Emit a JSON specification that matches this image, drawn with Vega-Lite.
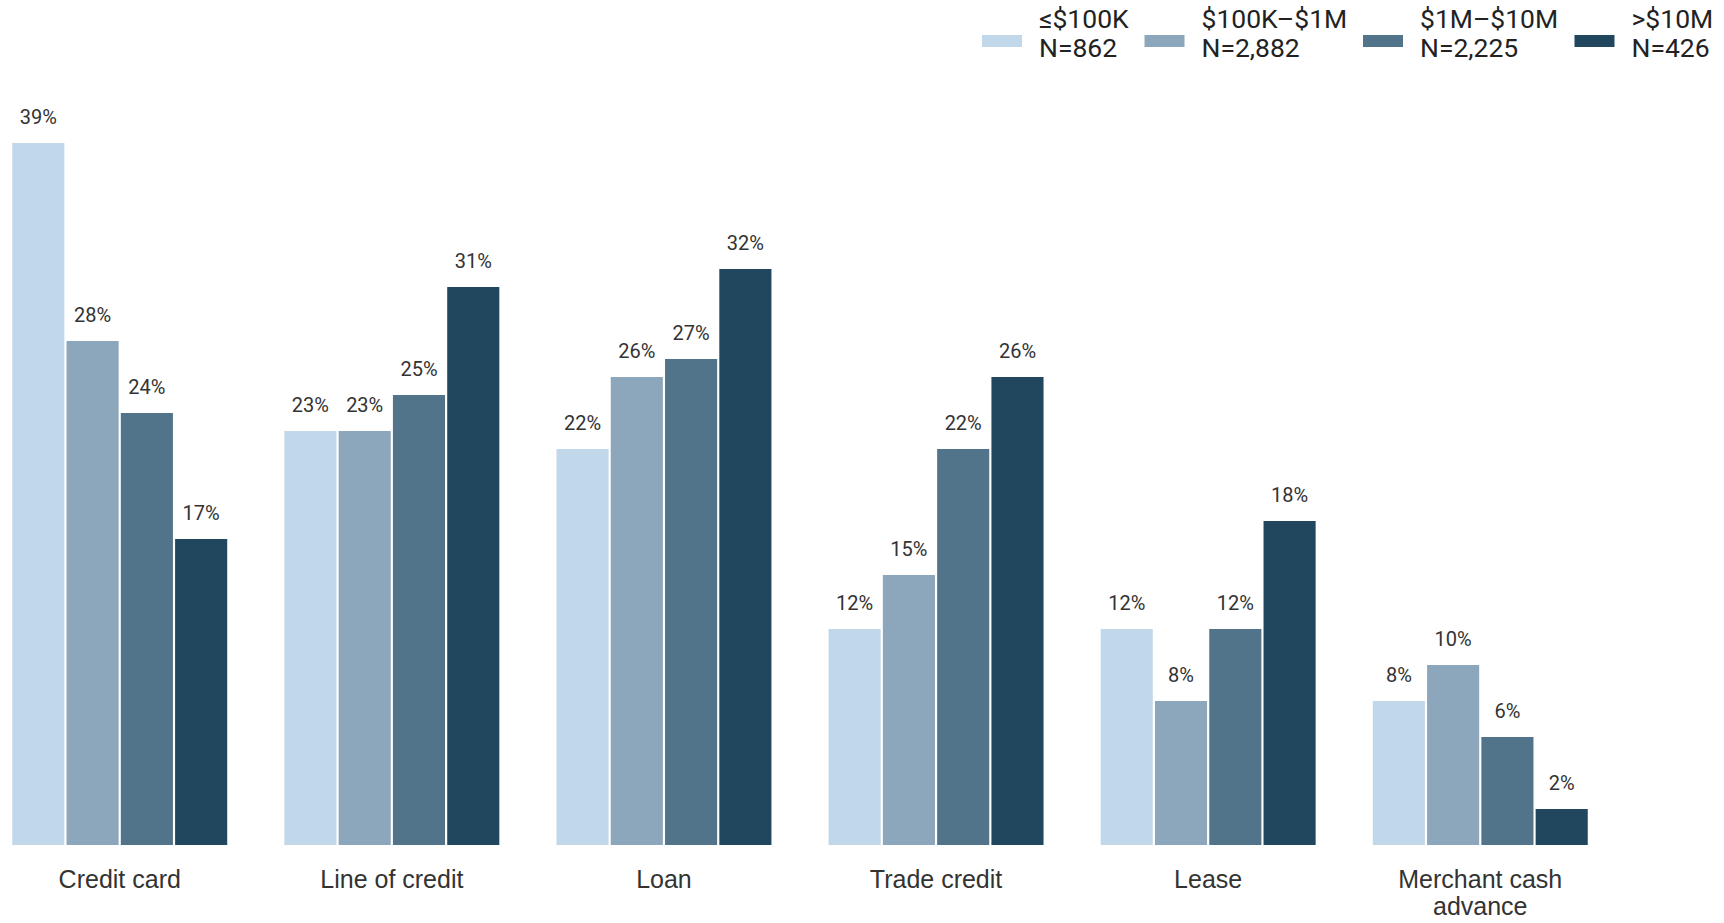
{
  "$schema": "https://vega.github.io/schema/vega-lite/v6.json",
  "width": 1600,
  "height": 810,
  "autosize": {"type": "none"},
  "padding": {"top": 35, "left": 0, "right": 124, "bottom": 78},
  "background": "white",
  "config": {"view": {"stroke": null}},
  "data": {
    "values": [
      {"type": "Credit card", "size": "≤$100K", "pct": 0.39},
      {"type": "Credit card", "size": "$100K–$1M", "pct": 0.28},
      {"type": "Credit card", "size": "$1M–$10M", "pct": 0.24},
      {"type": "Credit card", "size": ">$10M", "pct": 0.17},
      {"type": "Line of credit", "size": "≤$100K", "pct": 0.23},
      {"type": "Line of credit", "size": "$100K–$1M", "pct": 0.23},
      {"type": "Line of credit", "size": "$1M–$10M", "pct": 0.25},
      {"type": "Line of credit", "size": ">$10M", "pct": 0.31},
      {"type": "Loan", "size": "≤$100K", "pct": 0.22},
      {"type": "Loan", "size": "$100K–$1M", "pct": 0.26},
      {"type": "Loan", "size": "$1M–$10M", "pct": 0.27},
      {"type": "Loan", "size": ">$10M", "pct": 0.32},
      {"type": "Trade credit", "size": "≤$100K", "pct": 0.12},
      {"type": "Trade credit", "size": "$100K–$1M", "pct": 0.15},
      {"type": "Trade credit", "size": "$1M–$10M", "pct": 0.22},
      {"type": "Trade credit", "size": ">$10M", "pct": 0.26},
      {"type": "Lease", "size": "≤$100K", "pct": 0.12},
      {"type": "Lease", "size": "$100K–$1M", "pct": 0.08},
      {"type": "Lease", "size": "$1M–$10M", "pct": 0.12},
      {"type": "Lease", "size": ">$10M", "pct": 0.18},
      {"type": "Merchant cash advance", "size": "≤$100K", "pct": 0.08},
      {"type": "Merchant cash advance", "size": "$100K–$1M", "pct": 0.10},
      {"type": "Merchant cash advance", "size": "$1M–$10M", "pct": 0.06},
      {"type": "Merchant cash advance", "size": ">$10M", "pct": 0.02}
    ]
  },
  "encoding": {
    "x": {
      "field": "type",
      "type": "nominal",
      "sort": ["Credit card", "Line of credit", "Loan", "Trade credit", "Lease", "Merchant cash advance"],
      "scale": {"paddingInner": 0.21, "paddingOuter": 0.045},
      "axis": {
        "title": null,
        "labelAngle": 0,
        "domain": false,
        "ticks": false,
        "labelFont": "Liberation Sans",
        "labelFontSize": 25,
        "labelColor": "#333333",
        "labelPadding": 22,
        "labelLineHeight": 27,
        "labelLimit": 0,
        "labelExpr": "datum.label == 'Merchant cash advance' ? ['Merchant cash', 'advance'] : datum.label"
      }
    },
    "xOffset": {
      "field": "size",
      "type": "nominal",
      "sort": ["≤$100K", "$100K–$1M", "$1M–$10M", ">$10M"],
      "scale": {"paddingInner": 0.04, "paddingOuter": 0}
    },
    "y": {
      "field": "pct",
      "type": "quantitative",
      "scale": {"domain": [0, 0.45]},
      "axis": null
    }
  },
  "layer": [
    {
      "mark": {"type": "bar"},
      "encoding": {
        "color": {
          "field": "size",
          "type": "nominal",
          "sort": ["≤$100K", "$100K–$1M", "$1M–$10M", ">$10M"],
          "scale": {
            "domain": ["≤$100K", "$100K–$1M", "$1M–$10M", ">$10M"],
            "range": ["#c1d7ea", "#8ca7bb", "#52748a", "#20475d"]
          },
          "legend": {
            "title": null,
            "orient": "none",
            "legendX": 982,
            "legendY": -35,
            "direction": "horizontal",
            "symbolType": "M-1,0.75L1,0.75L1,1.35L-1,1.35Z",
            "symbolSize": 1600,
            "symbolStrokeWidth": 0,
            "labelFont": "Roboto",
            "labelFontSize": 26.5,
            "labelColor": "#222222",
            "labelOffset": 17,
            "columnPadding": 15.5,
            "labelLimit": 0,
            "labelExpr": "[datum.label, datum.label == '≤$100K' ? 'N=862' : datum.label == '$100K–$1M' ? 'N=2,882' : datum.label == '$1M–$10M' ? 'N=2,225' : 'N=426']"
          }
        }
      }
    },
    {
      "mark": {"type": "text", "font": "Roboto", "fontSize": 20, "color": "#333333", "dy": -25},
      "encoding": {
        "text": {"field": "pct", "type": "quantitative", "format": ".0%"}
      }
    }
  ]
}
